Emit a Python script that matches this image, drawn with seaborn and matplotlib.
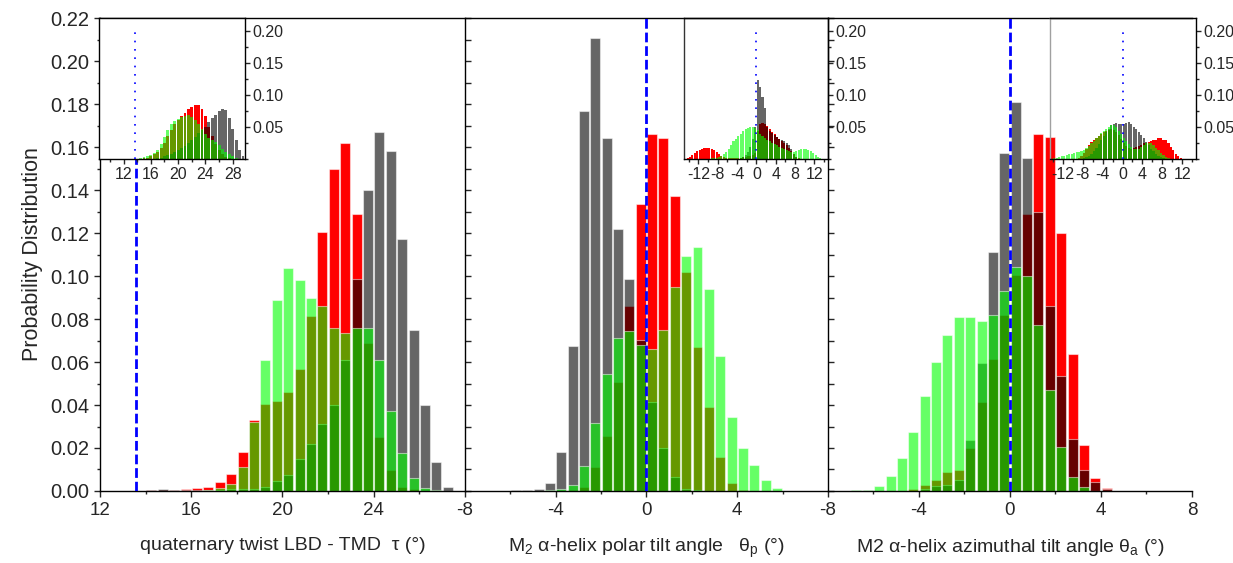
import numpy as np
import matplotlib
matplotlib.use('Agg')
import matplotlib.pyplot as plt
from matplotlib.ticker import MultipleLocator
import seaborn as sns

# ---- main panels: bin centres (0.5 deg bins) and probabilities ----
tau_x = np.arange(14.25, 27.3, 0.5)
tau_red = [0.0005, 0.0005, 0.0005, 0.0008, 0.0012, 0.0018, 0.0043, 0.0079,
           0.0183, 0.033, 0.0405, 0.042, 0.046, 0.0566, 0.0814, 0.1206,
           0.150, 0.162, 0.129, 0.069, 0.0253, 0.0098, 0.002, 0.001,
           0, 0, 0]
tau_gray = [0.0005, 0.0008, 0.0003, 0.0003, 0.0003, 0.0005, 0.0005, 0.0008,
            0.001, 0.001, 0.002, 0.0045, 0.0074, 0.0149, 0.022, 0.031,
            0.040, 0.061, 0.0986, 0.140, 0.167, 0.158, 0.117, 0.075,
            0.040, 0.0136, 0.0019]
tau_green = [0, 0, 0, 0, 0, 0.0005, 0.0015, 0.0034,
             0.0113, 0.032, 0.061, 0.089, 0.1036, 0.098, 0.090, 0.0862,
             0.076, 0.0733, 0.076, 0.076, 0.061, 0.0374, 0.0175, 0.0059,
             0.0014, 0.0003, 0]

polar_x = np.arange(-5.75, 5.8, 0.5)
polar_gray = [0.0003, 0.0005, 0.0008, 0.0039, 0.018, 0.0674, 0.177, 0.2105,
              0.1643, 0.122, 0.0988, 0.0702, 0.0415, 0.0198, 0.0067, 0.001,
              0.0003, 0, 0, 0, 0, 0, 0, 0]
polar_red = [0, 0, 0, 0, 0, 0.0003, 0.0017, 0.0113,
             0.0256, 0.0508, 0.0862, 0.1335, 0.166, 0.164, 0.137, 0.1017,
             0.0668, 0.0389, 0.0157, 0.0036, 0.0005, 0, 0, 0]
polar_green = [0, 0, 0, 0.0003, 0.0008, 0.0028, 0.0116, 0.0315,
               0.0544, 0.071, 0.0743, 0.0679, 0.066, 0.0749, 0.095, 0.1093,
               0.1133, 0.0938, 0.063, 0.0346, 0.0198, 0.0121, 0.0051, 0.0012]

azim_x = np.arange(-6.75, 4.3, 0.5)
azim_gray = [0, 0, 0, 0, 0, 0, 0.001, 0.0025,
             0.003, 0.005, 0.0237, 0.0597, 0.111, 0.157, 0.181, 0.1547,
             0.130, 0.086, 0.0535, 0.024, 0.0098, 0.0043, 0.001]
azim_red = [0, 0, 0, 0, 0, 0.001, 0.0028, 0.005,
            0.009, 0.0098, 0.0198, 0.0415, 0.0614, 0.0819, 0.1005, 0.129,
            0.166, 0.1645, 0.1198, 0.0637, 0.0214, 0.0062, 0.0012]
azim_green = [0.0003, 0.0005, 0.0023, 0.007, 0.0152, 0.0273, 0.0442, 0.0601,
              0.0726, 0.081, 0.081, 0.0792, 0.0819, 0.093, 0.1043, 0.100,
              0.0772, 0.047, 0.0206, 0.0067, 0.002, 0, 0]

# ---- insets ----
in_tau_x = np.arange(13.5, 29.6, 0.5)
in_tau_red = [0, 0.001, 0.001, 0.002, 0.003, 0.005, 0.008, 0.012,
              0.018, 0.026, 0.036, 0.046, 0.055, 0.062, 0.068, 0.073,
              0.078, 0.082, 0.085, 0.084, 0.079, 0.068, 0.050, 0.036,
              0.024, 0.014, 0.008, 0.004, 0.002, 0.001, 0, 0, 0]
in_tau_gray = [0, 0, 0, 0, 0, 0, 0.001, 0.002,
               0.003, 0.005, 0.007, 0.009, 0.012, 0.015, 0.018, 0.021,
               0.025, 0.030, 0.035, 0.041, 0.046, 0.050, 0.058, 0.064,
               0.069, 0.075, 0.079, 0.077, 0.065, 0.047, 0.030, 0.015, 0.005]
in_tau_green = [0, 0.001, 0.002, 0.004, 0.005, 0.007, 0.010, 0.014,
                0.024, 0.035, 0.046, 0.055, 0.060, 0.063, 0.066, 0.068,
                0.069, 0.066, 0.062, 0.055, 0.047, 0.040, 0.034, 0.030,
                0.027, 0.022, 0.017, 0.012, 0.008, 0.005, 0.002, 0.001, 0]

in_ang_x = np.arange(-14.75, 14.8, 0.5)
in_polar_red = [0.001, 0.002, 0.004, 0.007, 0.010, 0.013, 0.015, 0.017, 0.018, 0.018,
                0.0175, 0.016, 0.014, 0.011, 0.008, 0.006, 0.004, 0.003, 0.002, 0.002,
                0.002, 0.002, 0.003, 0.003, 0.004, 0.004, 0.005, 0.006, 0.007, 0.010,
                0.045, 0.055, 0.056, 0.055, 0.052, 0.048, 0.043, 0.039, 0.035, 0.032,
                0.029, 0.026, 0.022, 0.018, 0.013, 0.008, 0.004, 0.002, 0.001, 0,
                0, 0, 0, 0, 0, 0, 0, 0, 0, 0]
in_polar_gray = [0, 0, 0, 0, 0, 0, 0, 0, 0, 0,
                 0, 0, 0, 0, 0, 0, 0, 0, 0, 0,
                 0, 0, 0, 0.002, 0.004, 0.007, 0.012, 0.020, 0.032, 0.050,
                 0.124, 0.112, 0.097, 0.080, 0.050, 0.045, 0.041, 0.038, 0.035, 0.032,
                 0.030, 0.028, 0.025, 0.022, 0.016, 0.009, 0.004, 0.001, 0, 0,
                 0, 0, 0, 0, 0, 0, 0, 0, 0, 0]
in_polar_green = [0, 0, 0, 0, 0, 0, 0, 0, 0, 0.001,
                  0.001, 0.002, 0.002, 0.003, 0.004, 0.006, 0.008, 0.012, 0.016, 0.022,
                  0.028, 0.032, 0.036, 0.040, 0.044, 0.047, 0.049, 0.050, 0.050, 0.049,
                  0.046, 0.040, 0.036, 0.033, 0.030, 0.028, 0.026, 0.024, 0.022, 0.020,
                  0.018, 0.016, 0.014, 0.013, 0.012, 0.012, 0.013, 0.014, 0.016, 0.0165,
                  0.0165, 0.0155, 0.013, 0.010, 0.007, 0.0035, 0.002, 0.001, 0.0005, 0]

in_azim_gray = [0, 0, 0, 0, 0, 0, 0, 0, 0, 0,
                0, 0, 0, 0.001, 0.002, 0.004, 0.006, 0.009, 0.013, 0.018,
                0.024, 0.030, 0.037, 0.043, 0.048, 0.053, 0.055, 0.056, 0.055, 0.055,
                0.055, 0.056, 0.059, 0.055, 0.051, 0.047, 0.042, 0.038, 0.033, 0.027,
                0.022, 0.017, 0.013, 0.009, 0.006, 0.004, 0.002, 0.001, 0, 0,
                0, 0, 0, 0, 0, 0, 0, 0, 0, 0]
in_azim_green = [0, 0.001, 0.002, 0.003, 0.004, 0.005, 0.006, 0.007, 0.008, 0.009,
                 0.010, 0.011, 0.012, 0.013, 0.015, 0.018, 0.021, 0.025, 0.029, 0.033,
                 0.037, 0.041, 0.045, 0.048, 0.051, 0.053, 0.054, 0.050, 0.045, 0.039,
                 0.033, 0.028, 0.024, 0.020, 0.017, 0.016, 0.017, 0.019, 0.022, 0.025,
                 0.026, 0.025, 0.022, 0.018, 0.014, 0.010, 0.007, 0.004, 0.002, 0.001,
                 0, 0, 0, 0, 0, 0, 0, 0, 0, 0]
in_azim_red = [0, 0, 0, 0, 0, 0, 0, 0, 0, 0,
               0, 0.001, 0.003, 0.006, 0.010, 0.016, 0.022, 0.027, 0.030, 0.033,
               0.036, 0.039, 0.042, 0.044, 0.046, 0.047, 0.046, 0.043, 0.038, 0.032,
               0.026, 0.021, 0.018, 0.017, 0.018, 0.019, 0.021, 0.023, 0.025, 0.026,
               0.027, 0.028, 0.030, 0.031, 0.033, 0.034, 0.031, 0.031, 0.026, 0.020,
               0.014, 0.009, 0.005, 0.002, 0.001, 0, 0, 0, 0, 0]

sns.set_style('ticks')
plt.rcParams['font.family'] = ['Liberation Sans', 'DejaVu Sans']
plt.rcParams['font.size'] = 13.5
plt.rcParams['axes.unicode_minus'] = False
plt.rcParams['mathtext.fontset'] = 'custom'
plt.rcParams['mathtext.rm'] = 'Liberation Sans'
plt.rcParams['mathtext.it'] = 'Liberation Sans:italic'
plt.rcParams['mathtext.default'] = 'regular'
plt.rcParams['axes.edgecolor'] = 'black'
plt.rcParams['axes.linewidth'] = 1.0


def layer(ax, x, y, color, alpha, brange, shrink, lw):
    sns.histplot(x=x, weights=y, binwidth=0.5, binrange=brange, color=color,
                 alpha=alpha, shrink=shrink, edgecolor=(1, 1, 1, 0.5),
                 linewidth=lw, ax=ax)


def three_layers(ax, x, red, gray, green, brange, shrink=0.88, lw=0.8):
    layer(ax, x, red, '#ff0000', 1.0, brange, shrink, lw)
    layer(ax, x, gray, 'black', 0.6, brange, shrink, lw)
    layer(ax, x, green, '#00ff00', 0.6, brange, shrink, lw)


fig = plt.figure(figsize=(12.33, 5.63), dpi=100)
bottom, height = 0.1279, 0.840
ax1 = fig.add_axes([0.0811, bottom, 0.2960, height])
ax2 = fig.add_axes([0.3771, bottom, 0.2944, height])
ax3 = fig.add_axes([0.6715, bottom, 0.2952, height])

panels = [
    (ax1, tau_x, tau_red, tau_gray, tau_green, (12, 28), 13.6,
     [12, 16, 20, 24], [14, 18, 22, 26], 'quaternary twist LBD - TMD  τ (°)'),
    (ax2, polar_x, polar_red, polar_gray, polar_green, (-8, 8), 0,
     [-8, -4, 0, 4], [-6, -2, 2, 6], r'$M_2$ α-helix polar tilt angle   $\theta_p$ (°)'),
    (ax3, azim_x, azim_red, azim_gray, azim_green, (-8, 8), 0,
     [-8, -4, 0, 4, 8], [-6, -2, 2, 6], r'M2 α-helix azimuthal tilt angle $\theta_a$ (°)'),
]

for i, (ax, x, red, gray, green, brange, ref, ticks, minors, label) in enumerate(panels):
    three_layers(ax, x, red, gray, green, brange)
    ax.axvline(ref, color='#0000ff', ls=(0, (3.5, 1.4)), lw=2.0, zorder=5)
    ax.set_xlim(*brange)
    ax.set_ylim(0, 0.22)
    ax.set_xticks(ticks)
    ax.set_xticks(minors, minor=True)
    ax.spines['right'].set_visible(False)
    ax.set_xlabel(label, labelpad=13, fontsize=14)
    ax.tick_params(axis='x', which='major', direction='out', length=4.5, width=1)
    ax.tick_params(axis='x', which='minor', direction='out', length=2.5, width=1)
    ax.yaxis.set_major_locator(MultipleLocator(0.02))
    ax.yaxis.set_minor_locator(MultipleLocator(0.01))
    if i == 0:
        ax.set_ylabel('Probability Distribution', labelpad=5, fontsize=15.5)
        ax.yaxis.set_major_formatter(plt.FormatStrFormatter('%.2f'))
        ax.tick_params(axis='y', which='major', direction='out', length=4.5, width=1,
                       labelsize=14.5)
        ax.tick_params(axis='y', which='minor', direction='out', length=2.5, width=1)
    else:
        ax.set_ylabel('')
        ax.tick_params(axis='y', which='both', direction='in', length=4.5,
                       width=1, labelleft=False)

# insets
insets = [
    ([0.0803, 0.7167, 0.1184, 0.2513], in_tau_x, in_tau_red, in_tau_gray, in_tau_green,
     (13.25, 29.75), (8.4, 29.8), 13.7, [12, 16, 20, 24, 28], 'white', 'black'),
    ([0.5547, 0.7167, 0.1168, 0.2513], in_ang_x, in_polar_red, in_polar_gray, in_polar_green,
     (-15, 15), (-15, 14.8), 0, [-12, -8, -4, 0, 4, 8, 12], 'none', '#333333'),
    ([0.8516, 0.7167, 0.1184, 0.2513], in_ang_x, in_azim_red, in_azim_gray, in_azim_green,
     (-15, 15), (-14.6, 14.8), 0, [-12, -8, -4, 0, 4, 8, 12], 'none', '#a0a0a0'),
]

for rect, x, red, gray, green, brange, xlim, ref, ticks, face, lcol in insets:
    ins = fig.add_axes(rect)
    ins.set_facecolor(face)
    three_layers(ins, x, red, gray, green, brange, shrink=0.85, lw=0)
    ins.vlines(ref, 0, 0.2, color='#0000ff', ls=(0, (1, 4)), lw=1.2, zorder=5)
    ins.set_xlim(*xlim)
    ins.set_ylim(0, 0.22)
    ins.set_xticks(ticks)
    ins.xaxis.set_minor_locator(MultipleLocator(2))
    ins.yaxis.tick_right()
    ins.set_yticks([0.05, 0.10, 0.15, 0.20])
    ins.yaxis.set_minor_locator(MultipleLocator(0.025))
    ins.yaxis.set_major_formatter(plt.FormatStrFormatter('%.2f'))
    ins.tick_params(which='major', direction='out', length=3.5, width=1, pad=2,
                    labelsize=11.5)
    ins.tick_params(which='minor', direction='out', length=2.5, width=1)
    ins.set_xlabel('')
    ins.set_ylabel('')
    ins.spines['left'].set_color(lcol)

fig.savefig('out.png', dpi=100)
